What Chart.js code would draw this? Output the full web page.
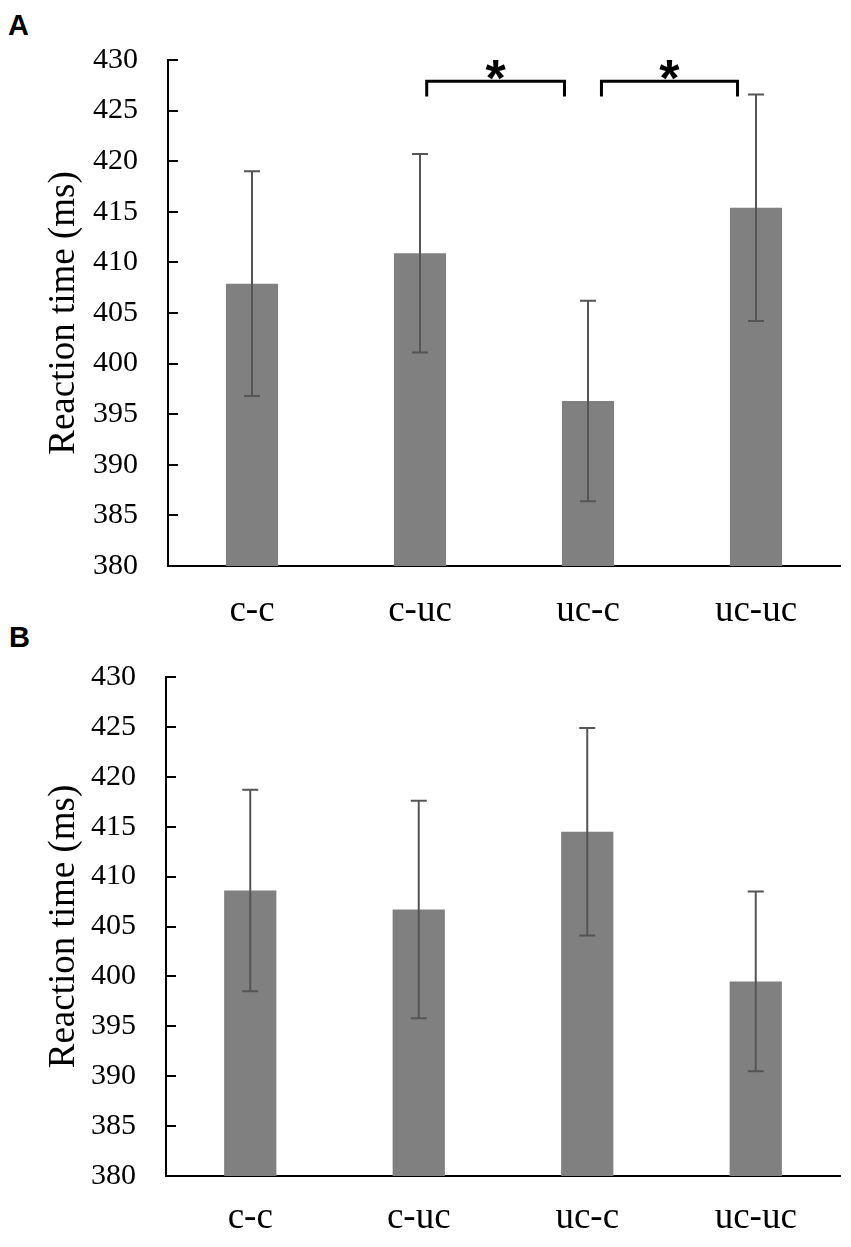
<!DOCTYPE html>
<html>
<head>
<meta charset="utf-8">
<script src="https://cdn.jsdelivr.net/npm/chart.js@4/dist/chart.umd.min.js"></script>
<style>
  body { margin: 0; background: #fff; width: 851px; height: 1247px; position: relative; overflow: hidden; }
  .panel { position: absolute; left: 0; }
  .tag { position: absolute; font: bold 29px "Liberation Sans", Arial, sans-serif; color: #000; line-height: normal; }
</style>
</head>
<body>
<div class="tag" style="left:8px;top:9px;">A</div>
<div class="tag" style="left:9px;top:621px;">B</div>
<canvas id="chartA" class="panel" width="851" height="630" style="top:0px;"></canvas>
<canvas id="chartB" class="panel" width="851" height="627" style="top:620px;"></canvas>
<script>
// conditions
const categories = ['c-c', 'c-uc', 'uc-c', 'uc-uc'];

// panel A: mean reaction time and error
const meanA = [407.9, 410.9, 396.3, 415.4];
const errA = [11.1, 9.8, 9.9, 11.2];

// panel B
const meanB = [408.6, 406.7, 414.5, 399.5];
const errB = [10.1, 10.9, 10.4, 9.0];

// significance brackets in panel A (category positions, value-space heights)
const bracketFrom = [1.04, 2.08];
const bracketTo = [1.86, 2.89];
const bracketTop = [427.9, 427.9];
const bracketLeg = [426.4, 426.4];
const bracketMark = ['*', '*'];

const yMin = 380, yMax = 430, yStep = 5;

// pixel for a fractional category position
function catPixel(xs, v) {
    const i = Math.floor(v);
    const p0 = xs.getPixelForValue(i);
    const step = xs.getPixelForValue(1) - xs.getPixelForValue(0);
    return p0 + (v - i) * step;
}

const innerTicks = {
    id: 'innerTicks',
    afterDraw(chart) {
        const ys = chart.scales.y, area = chart.chartArea, ctx = chart.ctx;
        ctx.save();
        ctx.strokeStyle = '#000';
        ctx.lineWidth = 2;
        ys.ticks.forEach(t => {
            if (t.value === yMin) return;
            const py = Math.round(ys.getPixelForValue(t.value));
            ctx.beginPath();
            ctx.moveTo(area.left, py);
            ctx.lineTo(area.left + 10, py);
            ctx.stroke();
        });
        ctx.restore();
    }
};

const errorBars = {
    id: 'errorBars',
    afterDatasetsDraw(chart, args, opts) {
        const xs = chart.scales.x, ys = chart.scales.y, ctx = chart.ctx;
        const means = chart.data.datasets[0].data;
        ctx.save();
        ctx.strokeStyle = '#555';
        ctx.lineWidth = 2;
        means.forEach((m, i) => {
            const e = opts.errs[i];
            const px = xs.getPixelForValue(i);
            const top = ys.getPixelForValue(m + e), bot = ys.getPixelForValue(m - e);
            ctx.beginPath();
            ctx.moveTo(px, top); ctx.lineTo(px, bot);
            ctx.moveTo(px - 8, top); ctx.lineTo(px + 8, top);
            ctx.moveTo(px - 8, bot); ctx.lineTo(px + 8, bot);
            ctx.stroke();
        });
        ctx.restore();
    }
};

const brackets = {
    id: 'brackets',
    afterDraw(chart, args, opts) {
        if (!opts.show) return;
        const xs = chart.scales.x, ys = chart.scales.y, ctx = chart.ctx;
        ctx.save();
        ctx.strokeStyle = '#000';
        ctx.lineWidth = 3;
        ctx.lineCap = 'butt';
        bracketFrom.forEach((f, i) => {
            const x1 = catPixel(xs, f), x2 = catPixel(xs, bracketTo[i]);
            const yt = ys.getPixelForValue(bracketTop[i]), yl = ys.getPixelForValue(bracketLeg[i]);
            ctx.beginPath();
            ctx.moveTo(x1, yl); ctx.lineTo(x1, yt); ctx.lineTo(x2, yt); ctx.lineTo(x2, yl);
            ctx.stroke();
            ctx.fillStyle = '#000';
            ctx.font = 'bold 52px "Liberation Sans", Arial, sans-serif';
            ctx.textAlign = 'center';
            ctx.textBaseline = 'alphabetic';
            ctx.fillText(bracketMark[i], (x1 + x2) / 2, yt + 15);
        });
        ctx.restore();
    }
};

function makeChart(id, means, errs, lay) {
    const ctx = document.getElementById(id).getContext('2d');
    return new Chart(ctx, {
        type: 'bar',
        data: {
            labels: categories,
            datasets: [{
                data: means,
                backgroundColor: '#808080',
                borderWidth: 0,
                categoryPercentage: 1,
                barPercentage: 0.31
            }]
        },
        options: {
            responsive: false,
            animation: false,
            layout: { padding: { top: lay.top, left: 0, right: 11, bottom: 0 } },
            plugins: {
                legend: { display: false },
                tooltip: { enabled: false },
                errorBars: { errs: errs },
                brackets: { show: lay.brackets }
            },
            scales: {
                x: {
                    grid: { display: false, drawTicks: false },
                    border: { display: true, color: '#000', width: 2 },
                    ticks: {
                        color: '#000',
                        padding: lay.xPad,
                        font: { family: '"Liberation Serif", "Times New Roman", serif', size: 37 }
                    },
                    afterFit(s) { s.height = lay.xHeight; }
                },
                y: {
                    min: yMin,
                    max: yMax,
                    grid: { display: false, drawTicks: false },
                    border: { display: true, color: '#000', width: 2 },
                    ticks: {
                        stepSize: yStep,
                        color: '#000',
                        padding: 30,
                        font: { family: '"Liberation Serif", "Times New Roman", serif', size: 30 }
                    },
                    title: {
                        display: true,
                        text: 'Reaction time (ms)',
                        color: '#000',
                        padding: { top: 42, bottom: 0 },
                        font: { family: '"Liberation Serif", "Times New Roman", serif', size: 37, weight: 'normal' }
                    },
                    afterFit(s) { s.width = lay.yWidth; }
                }
            }
        },
        plugins: [innerTicks, errorBars, brackets]
    });
}

makeChart('chartA', meanA, errA, { top: 60, xHeight: 64, xPad: 23, yWidth: 168, brackets: true });
makeChart('chartB', meanB, errB, { top: 57, xHeight: 71, xPad: 20, yWidth: 166, brackets: false });
</script>
</body>
</html>
